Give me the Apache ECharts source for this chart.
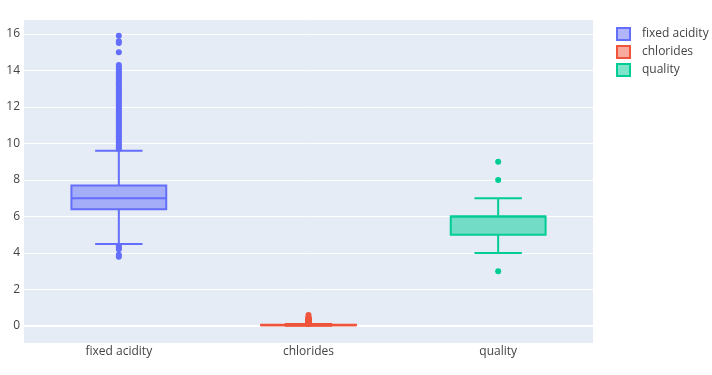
<!DOCTYPE html>
<html>
<head>
<meta charset="utf-8">
<script src="https://cdn.jsdelivr.net/npm/echarts@6/dist/echarts.min.js"></script>
<style>html,body{margin:0;padding:0;background:#fff}#c{width:712px;height:375px}</style>
</head>
<body>
<div id="c"></div>
<script>
var categories = ['fixed acidity', 'chlorides', 'quality'];
var seriesNames = ['fixed acidity', 'chlorides', 'quality'];
var colors = ['#636efa', '#EF553B', '#00cc96'];
var fills = ['rgba(99,110,250,0.5)', 'rgba(239,85,59,0.5)', 'rgba(0,204,150,0.5)'];
// [lower whisker, q1, median, q3, upper whisker]
var boxFixedAcidity = [4.5, 6.4, 7.0, 7.7, 9.6];
var boxChlorides = [0.009, 0.038, 0.047, 0.065, 0.105];
var boxQuality = [4, 5, 6, 6, 7];
var outFixedAcidity = [9.7, 9.8, 9.9, 10.0, 10.1, 10.2, 10.3, 10.4, 10.5, 10.6, 10.7, 10.8, 10.9, 11.0, 11.1, 11.2, 11.3, 11.4, 11.5, 11.6, 11.7, 11.8, 11.9, 12.0, 12.1, 12.2, 12.3, 12.4, 12.5, 12.6, 12.7, 12.8, 12.9, 13.0, 13.1, 13.2, 13.3, 13.4, 13.5, 13.6, 13.7, 13.8, 13.9, 14.0, 14.1, 14.2, 14.3, 15.0, 15.5, 15.6, 15.9, 4.4, 4.3, 4.2, 3.9, 3.8];
var outChlorides = [0.106, 0.11, 0.12, 0.13, 0.14, 0.15, 0.16, 0.17, 0.18, 0.19, 0.2, 0.21, 0.22, 0.23, 0.24, 0.25, 0.26, 0.27, 0.29, 0.3, 0.34, 0.36, 0.37, 0.39, 0.4, 0.41, 0.42, 0.46, 0.47, 0.61];
var outQuality = [3, 8, 9];
var yTicks = [0, 2, 4, 6, 8, 10, 12, 14, 16];

var boxes = [boxFixedAcidity, boxChlorides, boxQuality];
var outs = [outFixedAcidity, outChlorides, outQuality];

function renderBox(params, api) {
  var cat = api.value(0);
  var lo = api.coord([cat, api.value(1)]);
  var q1 = api.coord([cat, api.value(2)]);
  var med = api.coord([cat, api.value(3)]);
  var q3 = api.coord([cat, api.value(4)]);
  var hi = api.coord([cat, api.value(5)]);
  var bw = api.size([1, 0])[0] * 0.25;
  var cw = bw / 2;
  var x = lo[0];
  var c = colors[params.seriesIndex / 2 | 0];
  var f = fills[params.seriesIndex / 2 | 0];
  var ls = {stroke: c, lineWidth: 2, fill: null};
  return {
    type: 'group',
    children: [
      {type: 'line', shape: {x1: x, y1: q3[1], x2: x, y2: hi[1]}, style: ls},
      {type: 'line', shape: {x1: x, y1: q1[1], x2: x, y2: lo[1]}, style: ls},
      {type: 'line', shape: {x1: x - cw, y1: hi[1], x2: x + cw, y2: hi[1]}, style: ls},
      {type: 'line', shape: {x1: x - cw, y1: lo[1], x2: x + cw, y2: lo[1]}, style: ls},
      {type: 'rect', shape: {x: x - bw, y: q3[1], width: 2 * bw, height: q1[1] - q3[1]}, style: {fill: f, stroke: c, lineWidth: 2}},
      {type: 'line', shape: {x1: x - bw, y1: med[1], x2: x + bw, y2: med[1]}, style: ls}
    ]
  };
}

var series = [];
for (var i = 0; i < 3; i++) {
  series.push({
    name: seriesNames[i],
    type: 'custom',
    renderItem: renderBox,
    itemStyle: {color: colors[i]},
    encode: {x: 0, y: [1, 2, 3, 4, 5]},
    data: [[i].concat(boxes[i])],
    z: 2,
    markLine: i === 0 ? {
      silent: true, symbol: 'none', label: {show: false},
      lineStyle: {color: '#ffffff', width: 2, type: 'solid'},
      data: [{yAxis: 0}], z: 1
    } : undefined
  });
  series.push({
    name: seriesNames[i],
    type: 'scatter',
    symbolSize: 6,
    itemStyle: {color: colors[i], opacity: 1},
    data: outs[i].map(function (v) { return [categories[i], v]; }),
    z: 3
  });
}

var chart = echarts.init(document.getElementById('c'));
chart.setOption({
  backgroundColor: '#ffffff',
  animation: false,
  textStyle: {fontFamily: '"Open Sans", verdana, arial, sans-serif'},
  grid: {left: 24, right: 119, top: 19, bottom: 32, backgroundColor: '#E5ECF6', show: true, borderWidth: 0},
  legend: {
    orient: 'vertical', left: 611, top: 22, itemWidth: 13, itemHeight: 12, itemGap: 4,
    textStyle: {color: '#444', fontSize: 12, padding: [0, 0, 0, 7], fontFamily: '"Open Sans", verdana, arial, sans-serif'},
    data: seriesNames.map(function (n, i) {
      return {name: n, icon: 'rect', itemStyle: {color: fills[i], borderColor: colors[i], borderWidth: 2}};
    })
  },
  xAxis: {
    type: 'category', data: categories, boundaryGap: true,
    axisLine: {show: false}, axisTick: {show: false}, splitLine: {show: false},
    axisLabel: {color: '#444', fontSize: 12, margin: 3}
  },
  yAxis: {
    type: 'value', min: -0.93, max: 16.82, splitNumber: 9,
    axisLine: {show: false}, axisTick: {show: false},
    splitLine: {lineStyle: {color: '#ffffff', width: 1}},
    axisLabel: {color: '#444', fontSize: 12, margin: 4, showMinLabel: false, showMaxLabel: false,
      formatter: function (v) { return yTicks.indexOf(Math.round(v * 1000) / 1000) >= 0 ? String(v) : ''; }}
  },
  series: series
});
</script>
</body>
</html>
